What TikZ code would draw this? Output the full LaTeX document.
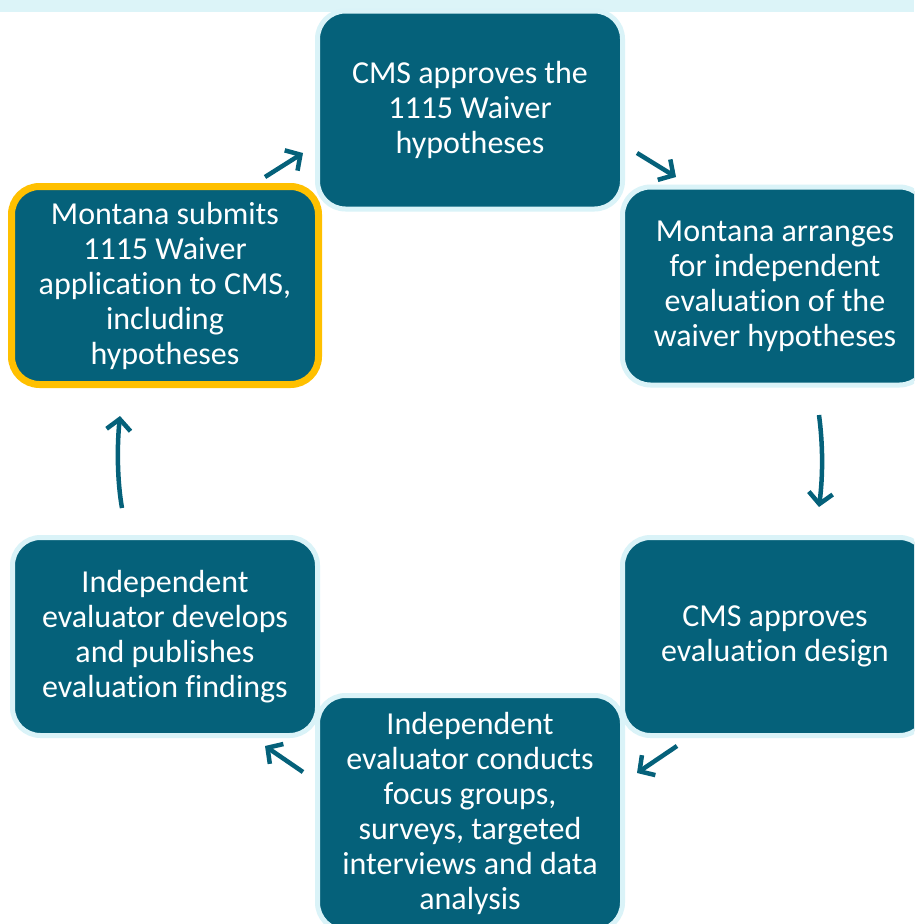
\documentclass[tikz,border=0pt]{standalone}
\usepackage{fontspec}
\setmainfont{Carlito}[Ligatures=NoCommon]
\usetikzlibrary{arrows.meta}
\definecolor{boxteal}{HTML}{05617A}
\definecolor{boxedge}{HTML}{DAF3F8}
\definecolor{bandcol}{HTML}{DCF4F8}
\definecolor{goldedge}{HTML}{FFC000}
\begin{document}
\begin{tikzpicture}[x=1pt,y=-1pt,
  box/.style={rectangle, rounded corners=28pt, fill=boxteal, draw=boxedge, line width=5pt,
    minimum width=305pt, minimum height=198pt, inner sep=0pt, align=center, text=white,
    font=\fontsize{32}{35}\selectfont},
  hl/.style={draw=goldedge, line width=7pt, minimum width=307pt, minimum height=198pt},
  arr/.style={draw=boxteal, line width=4.5pt, -{Straight Barb[length=11pt,width=24pt]}}]
\useasboundingbox (0,0) rectangle (914,924);
\clip (0,0) rectangle (914,924);
\fill[white] (0,0) rectangle (914,924);
\fill[bandcol] (0,0) rectangle (914,12);

\node[box, hl] (submit) at (165,285.5) {Montana submits\\1115 Waiver\\application to CMS,\\including\\hypotheses};
\node[box] (approve) at (470,110) {CMS approves the\\1115 Waiver\\hypotheses};
\node[box] (arrange) at (775,286) {Montana arranges\\for independent\\evaluation of the\\waiver hypotheses};
\node[box] (design) at (775,636.5) {CMS approves\\evaluation design};
\node[box, minimum height=235pt] (conduct) at (470,813) {Independent\\evaluator conducts\\focus groups,\\surveys, targeted\\interviews and data\\analysis};
\node[box] (publish) at (165,636.5) {Independent\\evaluator develops\\and publishes\\evaluation findings};

\coordinate (a1s) at (265,177); \coordinate (a1e) at (303,153);
\coordinate (a2s) at (637,153); \coordinate (a2e) at (676,177);
\coordinate (a3s) at (819,415); \coordinate (a3e) at (819,507);
\coordinate (a4s) at (677,746); \coordinate (a4e) at (637,773);
\coordinate (a5s) at (303,772); \coordinate (a5e) at (265,746);
\coordinate (a6s) at (122,508); \coordinate (a6e) at (120,416);

\draw[arr] (a1s) -- (a1e);
\draw[arr] (a2s) -- (a2e);
\draw[arr] (a3s) .. controls (823,445) and (823,475) .. (a3e);
\draw[arr] (a4s) -- (a4e);
\draw[arr] (a5s) -- (a5e);
\draw[arr] (a6s) .. controls (117,480) and (117,445) .. (a6e);
\end{tikzpicture}
\end{document}
